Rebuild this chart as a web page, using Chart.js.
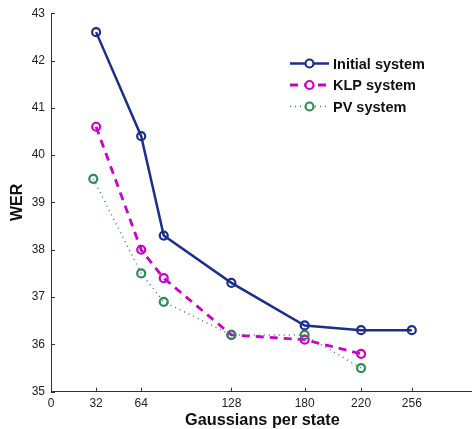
<!DOCTYPE html>
<html>
<head>
<meta charset="utf-8">
<script src="https://cdn.jsdelivr.net/npm/chart.js@4"></script>
<style>
  html, body { margin: 0; padding: 0; background: #fff; overflow: hidden; }
  #wrap { width: 480px; height: 429px; }
</style>
</head>
<body>
<div id="wrap"><canvas class="chart"></canvas></div>
<script>
const xTicks = [0, 32, 64, 128, 180, 220, 256];
const yTicks = [35, 36, 37, 38, 39, 40, 41, 42, 43];

const seriesNames = ['Initial system', 'KLP system', 'PV system'];
const initialX = [32, 64, 80, 128, 180, 220, 256];
const initialWER = [42.6, 40.4, 38.3, 37.3, 36.4, 36.3, 36.3];
const klpX = [32, 64, 80, 128, 180, 220];
const klpWER = [40.6, 38.0, 37.4, 36.2, 36.1, 35.8];
const pvX = [30, 64, 80, 128, 180, 220];
const pvWER = [39.5, 37.5, 36.9, 36.2, 36.2, 35.5];

const pts = (xs, ys) => xs.map((x, i) => ({ x: x, y: ys[i] }));
const font = 'Liberation Sans, Arial, Helvetica, sans-serif';

// matlab-ish ticks pointing into the plot
const innerTicks = {
  id: 'innerTicks',
  afterDraw(chart) {
    const ctx = chart.ctx, a = chart.chartArea;
    const xs = chart.scales.x, ys = chart.scales.y;
    ctx.save();
    ctx.strokeStyle = '#333';
    ctx.lineWidth = 1;
    ctx.beginPath();
    xs.ticks.forEach(t => {
      const px = Math.round(xs.getPixelForValue(t.value)) + 0.5;
      ctx.moveTo(px, a.bottom);
      ctx.lineTo(px, a.bottom - 4);
    });
    ys.ticks.forEach(t => {
      const py = Math.round(ys.getPixelForValue(t.value)) + 0.5;
      ctx.moveTo(a.left, py);
      ctx.lineTo(a.left + 4, py);
    });
    ctx.stroke();
    ctx.restore();
  }
};

// legend with line + marker sample
const lineLegend = {
  id: 'lineLegend',
  afterDraw(chart) {
    const ctx = chart.ctx;
    ctx.save();
    chart.data.datasets.forEach((ds, i) => {
      const y = 63.5 + i * 21.5;
      ctx.strokeStyle = ds.borderColor;
      ctx.lineWidth = ds.borderWidth;
      ctx.setLineDash(ds.borderDash || []);
      ctx.beginPath();
      ctx.moveTo(290, y);
      ctx.lineTo(329, y);
      ctx.stroke();
      ctx.setLineDash([]);
      ctx.lineWidth = ds.pointBorderWidth;
      ctx.fillStyle = '#fff';
      ctx.beginPath();
      ctx.arc(309.5, y, ds.pointRadius, 0, Math.PI * 2);
      ctx.fill();
      ctx.stroke();
      ctx.fillStyle = '#111';
      ctx.font = 'bold 14.5px ' + font;
      ctx.textBaseline = 'middle';
      ctx.fillText(ds.label, 333, y + 1);
    });
    ctx.restore();
  }
};

const myCanvas = document.querySelector('.chart');
const myChart = new Chart(myCanvas, {
  type: 'line',
  data: {
    datasets: [{
      label: seriesNames[0],
      data: pts(initialX, initialWER),
      borderColor: '#1c2e8c',
      borderWidth: 2.5,
      pointRadius: 4,
      pointBorderWidth: 2.2,
      pointBackgroundColor: 'rgba(0,0,0,0)',
      pointBorderColor: '#1c2e8c',
      order: 1
    }, {
      label: seriesNames[1],
      data: pts(klpX, klpWER),
      borderColor: '#cc00cc',
      borderWidth: 2.8,
      borderDash: [8, 6],
      pointRadius: 4,
      pointBorderWidth: 2.2,
      pointBackgroundColor: 'rgba(0,0,0,0)',
      pointBorderColor: '#cc00cc',
      order: 2
    }, {
      label: seriesNames[2],
      data: pts(pvX, pvWER),
      borderColor: '#2e8b57',
      borderWidth: 1.5,
      borderDash: [1, 4],
      pointRadius: 4,
      pointBorderWidth: 2.2,
      pointBackgroundColor: 'rgba(0,0,0,0)',
      pointBorderColor: '#2e8b57',
      order: 0
    }]
  },
  options: {
    responsive: true,
    maintainAspectRatio: false,
    animation: false,
    layout: { padding: { top: 12, right: 3, left: 0, bottom: 0 } },
    plugins: {
      legend: { display: false },
      tooltip: { enabled: false }
    },
    scales: {
      x: {
        type: 'linear',
        min: 0,
        max: 300,
        afterBuildTicks: s => { s.ticks = xTicks.map(v => ({ value: v })); },
        afterFit: s => { s.height = 37.3; },
        grid: { display: false, drawTicks: false },
        border: { display: true, color: '#333', width: 1 },
        ticks: { color: '#222', font: { family: font, size: 12 }, padding: 5, maxRotation: 0, autoSkip: false },
        title: {
          display: true,
          text: 'Gaussians per state',
          color: '#111',
          font: { family: font, size: 16.3, weight: 'bold', lineHeight: 1 },
          padding: { top: 0, bottom: 0 }
        }
      },
      y: {
        min: 35,
        max: 43,
        afterBuildTicks: s => { s.ticks = yTicks.map(v => ({ value: v })); },
        afterFit: s => { s.width = 51; },
        grid: { display: false, drawTicks: false },
        border: { display: true, color: '#333', width: 1 },
        ticks: { color: '#222', font: { family: font, size: 12 }, padding: 6 },
        title: {
          display: true,
          text: 'WER',
          color: '#111',
          font: { family: font, size: 16, weight: 'bold', lineHeight: 1 },
          padding: { top: 9.5, bottom: 0 }
        }
      }
    }
  },
  plugins: [innerTicks, lineLegend]
});
</script>
</body>
</html>
